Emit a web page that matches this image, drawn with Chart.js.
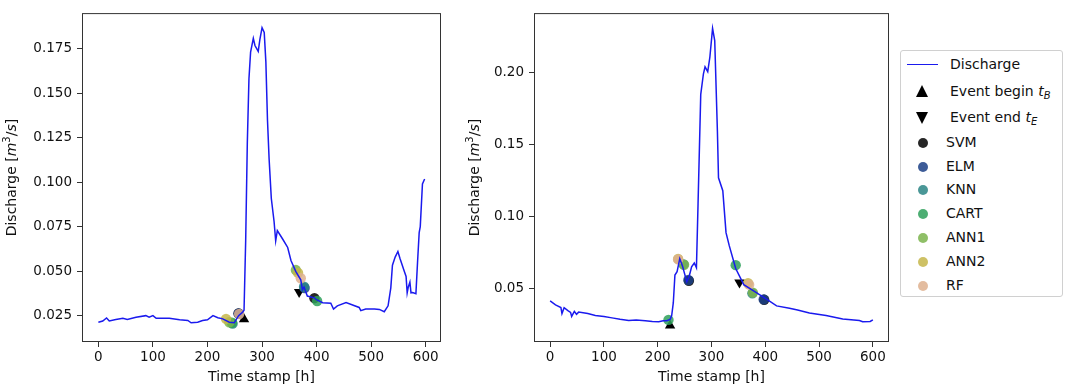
<!DOCTYPE html>
<html>
<head>
<meta charset="utf-8">
<script src="https://cdn.jsdelivr.net/npm/chart.js@4.4.1/dist/chart.umd.min.js"></script>
<style>
    body { margin: 0; background: #fff; font-family: 'DejaVu Sans', sans-serif; }
    #page { position: relative; width: 1074px; height: 389px; overflow: hidden; }
    #leftChart { position: absolute; left: 0; top: 0; }
    #rightChart { position: absolute; left: 462px; top: 0; }
    .legend {
        position: absolute; left: 900px; top: 50px; width: 161px; height: 245px;
        border: 1px solid #d0d0d0; border-radius: 3px; color: #111; font-size: 14px;
    }
    .row { position: relative; height: 26.6px; line-height: 26.6px; }
    .row.m { height: 23.8px; line-height: 23.8px; }
    .row .txt { position: absolute; left: 49px; top: 0; white-space: nowrap; }
    .row.m .txt { left: 45px; }
    .handle { position: absolute; }
    .h-line { left: 6px; top: 13px; width: 31px; height: 0; border-top: 1.5px solid #1a1aee; }
    .h-up { left: 15px; top: 7px; width: 0; height: 0; border-left: 6.5px solid transparent; border-right: 6.5px solid transparent; border-bottom: 12px solid #000; }
    .h-down { left: 15px; top: 8px; width: 0; height: 0; border-left: 6.5px solid transparent; border-right: 6.5px solid transparent; border-top: 12px solid #000; }
    .h-dot { left: 17px; top: 7px; width: 10px; height: 10px; border-radius: 50%; }
    sub { font-size: 10px; vertical-align: -3px; line-height: 0; }
</style>
</head>
<body>
<div id="page">
    <canvas id="leftChart" width="450" height="389"></canvas>
    <canvas id="rightChart" width="433" height="389"></canvas>
    <div class="legend" id="legend">
        <div class="row"><span class="handle h-line"></span><span class="txt">Discharge</span></div>
        <div class="row"><span class="handle h-up"></span><span class="txt">Event begin <i>t</i><sub><i>B</i></sub></span></div>
        <div class="row"><span class="handle h-down"></span><span class="txt">Event end <i>t</i><sub><i>E</i></sub></span></div>
    </div>
</div>
<script>
// hourly discharge
var LEFT_HOURS = [0, 8, 15, 20, 32, 45, 53, 69, 87, 93, 100, 106, 130, 149, 164, 170, 182, 191, 200, 210,
    219, 228, 240, 249, 257, 264, 267, 270, 273, 276, 279, 284, 287, 293, 296, 300, 304, 307, 310, 313,
    317, 322, 325, 328, 338, 347, 353, 362, 371, 374, 377, 383, 396, 399, 411, 426, 431, 438, 454, 466,
    478, 481, 490, 506, 515, 524, 531, 536, 539, 544, 549, 553, 561, 564, 566, 568, 571, 573, 576, 582,
    585, 588, 590, 594, 598];
var LEFT_FLOW = [0.0213, 0.0220, 0.0237, 0.0220, 0.0228, 0.0235, 0.0229, 0.0241, 0.0250, 0.0241, 0.0250, 0.0235, 0.0235, 0.0227, 0.0223, 0.0210, 0.0213, 0.0223, 0.0227, 0.0250,
    0.0238, 0.0232, 0.0213, 0.0210, 0.0250, 0.0268, 0.0280, 0.0670, 0.1220, 0.1580, 0.1730, 0.1807, 0.1767, 0.1734, 0.1800, 0.1867, 0.1840, 0.1675, 0.1346, 0.1127,
    0.0908, 0.0780, 0.0670, 0.0728, 0.0679, 0.0633, 0.0560, 0.0497, 0.0451, 0.0396, 0.0410, 0.0360, 0.0350, 0.0341, 0.0323, 0.0320, 0.0287, 0.0305, 0.0323, 0.0310,
    0.0296, 0.0278, 0.0287, 0.0287, 0.0285, 0.0272, 0.0305, 0.0406, 0.0533, 0.0579, 0.0610, 0.0570, 0.0497, 0.0470, 0.0378, 0.0410, 0.0438, 0.0378, 0.0380, 0.0373,
    0.0550, 0.0716, 0.0750, 0.0990, 0.1017];

// hourly discharge
var RIGHT_HOURS = [0, 10, 20, 22, 26, 33, 38, 40, 45, 49, 53, 70, 84, 100, 115, 130, 146, 160, 177, 190,
    202, 210, 217, 223, 226, 229, 232, 236, 241, 246, 254, 258, 263, 268, 272, 275, 280, 285, 288, 293,
    297, 302, 306, 311, 313, 321, 327, 333, 345, 360, 379, 403, 421, 445, 460, 482, 513, 544, 575, 581,
    595, 600];
var RIGHT_FLOW = [0.0417, 0.0390, 0.0372, 0.0330, 0.0370, 0.0350, 0.0338, 0.0310, 0.0345, 0.0325, 0.0340, 0.0330, 0.0316, 0.0310, 0.0300, 0.0290, 0.0282, 0.0285, 0.0280, 0.0275,
    0.0273, 0.0280, 0.0280, 0.0290, 0.0316, 0.0405, 0.0597, 0.0620, 0.0710, 0.0660, 0.0550, 0.0580, 0.0653, 0.0680, 0.0647, 0.1090, 0.1847, 0.1990, 0.2038, 0.2005,
    0.2106, 0.2304, 0.2220, 0.1588, 0.1270, 0.1180, 0.0890, 0.0800, 0.0642, 0.0530, 0.0485, 0.0428, 0.0383, 0.0367, 0.0355, 0.0334, 0.0317, 0.0293, 0.0282, 0.0273,
    0.0275, 0.0287];

// observed event begin / end  [begin, end]
var LEFT_EVENT_H = [267, 368];
var LEFT_EVENT_Q = [0.0230, 0.0383];
var RIGHT_EVENT_H = [223, 352];
var RIGHT_EVENT_Q = [0.0248, 0.0545];

// predicted begin / end per model, same order as MODELS
var MODELS = ['SVM', 'ELM', 'KNN', 'CART', 'ANN1', 'ANN2', 'RF'];
var LEFT_BEGIN_H = [257, 257, 246, 245, 240, 234, 258];
var LEFT_BEGIN_Q = [0.0262, 0.0262, 0.0205, 0.0210, 0.0213, 0.0232, 0.0259];
var LEFT_END_H = [396, 378, 377, 401, 362, 366, 371];
var LEFT_END_Q = [0.0348, 0.0405, 0.0412, 0.0332, 0.0506, 0.0490, 0.0460];
var RIGHT_BEGIN_H = [258, 257, 248, 220, 249, 238, 238];
var RIGHT_BEGIN_Q = [0.0557, 0.0562, 0.0670, 0.0286, 0.0668, 0.0708, 0.0705];
var RIGHT_END_H = [398, 397, 376, 345, 377, 368, 370];
var RIGHT_END_Q = [0.0425, 0.0428, 0.0470, 0.0665, 0.0475, 0.0540, 0.0530];

var X_TICKS = [0, 100, 200, 300, 400, 500, 600];
var LEFT_Y_TICKS = [0.025, 0.050, 0.075, 0.100, 0.125, 0.150, 0.175];
var RIGHT_Y_TICKS = [0.05, 0.10, 0.15, 0.20];

(function () {
    'use strict';

    var MODEL_COLORS = ['#000000', '#1b3f86', '#2a8585', '#2ea05a', '#7bb44c', '#c5b64a', '#deb08e'];
    var LINE_COLOR = '#1a1aee';
    var FONT = 'DejaVu Sans';

    Chart.defaults.font.family = FONT;
    Chart.defaults.color = '#111';

    function alpha(hex, a) {
        var n = parseInt(hex.slice(1), 16);
        return 'rgba(' + (n >> 16) + ',' + ((n >> 8) & 255) + ',' + (n & 255) + ',' + a + ')';
    }

    function points(xs, ys) {
        var out = [];
        for (var i = 0; i < xs.length; i++) {
            out.push({ x: xs[i], y: ys[i] });
        }
        return out;
    }

    // matplotlib style box around the plot area
    var framePlugin = {
        id: 'frame',
        afterDraw: function (chart) {
            var a = chart.chartArea;
            var ctx = chart.ctx;
            ctx.save();
            ctx.strokeStyle = '#333';
            ctx.lineWidth = 1;
            ctx.strokeRect(a.left + 0.5, a.top + 0.5, a.right - a.left - 1, a.bottom - a.top - 1);
            ctx.restore();
        }
    };

    // y title with mathtext-like pieces: Discharge [m^3/s]
    var yTitlePlugin = {
        id: 'yTitle',
        afterDraw: function (chart, args, opts) {
            var a = chart.chartArea;
            var ctx = chart.ctx;
            var parts = [
                { t: 'Discharge [', f: '14px ' + FONT, dy: 0 },
                { t: 'm', f: 'italic 14px ' + FONT, dy: 0 },
                { t: '3', f: '10px ' + FONT, dy: -5 },
                { t: '/', f: '14px ' + FONT, dy: 0 },
                { t: 's', f: 'italic 14px ' + FONT, dy: 0 },
                { t: ']', f: '14px ' + FONT, dy: 0 }
            ];
            ctx.save();
            var w = 0;
            parts.forEach(function (p) { ctx.font = p.f; p.w = ctx.measureText(p.t).width; w += p.w; });
            ctx.translate(opts.x, (a.top + a.bottom) / 2);
            ctx.rotate(-Math.PI / 2);
            ctx.fillStyle = '#111';
            ctx.textBaseline = 'middle';
            var x = -w / 2;
            parts.forEach(function (p) {
                ctx.font = p.f;
                ctx.fillText(p.t, x, p.dy);
                x += p.w;
            });
            ctx.restore();
        }
    };

    function buildDatasets(hours, flow, evH, evQ, bH, bQ, eH, eQ) {
        var sets = [{
            label: 'Discharge',
            data: points(hours, flow),
            showLine: true,
            borderColor: LINE_COLOR,
            borderWidth: 1.5,
            pointRadius: 0,
            tension: 0,
            order: 0
        }];
        for (var m = MODELS.length - 1; m >= 0; m--) {
            sets.push({
                label: MODELS[m],
                data: [{ x: bH[m], y: bQ[m] }, { x: eH[m], y: eQ[m] }],
                pointRadius: 5.2,
                pointBorderWidth: 0,
                backgroundColor: alpha(MODEL_COLORS[m], 0.85),
                order: MODELS.length - m
            });
        }
        sets.push({
            label: 'Event begin',
            data: [{ x: evH[0], y: evQ[0] }],
            pointStyle: 'triangle',
            pointRadius: 6,
            pointBorderWidth: 0,
            backgroundColor: '#000',
            order: 20
        });
        sets.push({
            label: 'Event end',
            data: [{ x: evH[1], y: evQ[1] }],
            pointStyle: 'triangle',
            rotation: 180,
            pointRadius: 6,
            pointBorderWidth: 0,
            backgroundColor: '#000',
            order: 21
        });
        return sets;
    }

    function axisTicks(list) {
        return function (scale) {
            scale.ticks = list.map(function (v) { return { value: v }; });
        };
    }

    function makeChart(canvas, cfg) {
        return new Chart(canvas, {
            type: 'scatter',
            data: { datasets: cfg.datasets },
            options: {
                responsive: false,
                animation: false,
                layout: { padding: { top: 5, right: cfg.padRight, left: 0, bottom: 0 } },
                plugins: {
                    legend: { display: false },
                    tooltip: { enabled: false },
                    yTitle: { x: cfg.titleX }
                },
                scales: {
                    x: {
                        type: 'linear',
                        min: cfg.xMin,
                        max: cfg.xMax,
                        afterBuildTicks: axisTicks(X_TICKS),
                        afterFit: function (scale) { scale.height = 47; },
                        border: { display: false },
                        grid: { drawOnChartArea: false, drawTicks: true, tickLength: 5, tickColor: '#333' },
                        ticks: { color: '#111', padding: 2, maxRotation: 0, font: { size: 13.5 } },
                        title: { display: true, text: 'Time stamp [h]', color: '#111', font: { size: 14 }, padding: { top: 0, bottom: 3 } }
                    },
                    y: {
                        type: 'linear',
                        min: cfg.yMin,
                        max: cfg.yMax,
                        afterBuildTicks: axisTicks(cfg.yTicks),
                        afterFit: function (scale) { scale.width = cfg.yWidth; },
                        border: { display: false },
                        grid: { drawOnChartArea: false, drawTicks: true, tickLength: 5, tickColor: '#333' },
                        ticks: {
                            color: '#111',
                            padding: 5,
                            font: { size: 13.5 },
                            callback: function (v) { return Number(v).toFixed(cfg.decimals); }
                        },
                        title: { display: false }
                    }
                }
            },
            plugins: [framePlugin, yTitlePlugin]
        });
    }

    function buildLegend() {
        var box = document.getElementById('legend');
        for (var m = 0; m < MODELS.length; m++) {
            var row = document.createElement('div');
            row.className = 'row m';
            var dot = document.createElement('span');
            dot.className = 'handle h-dot';
            dot.style.background = alpha(MODEL_COLORS[m], 0.85);
            var txt = document.createElement('span');
            txt.className = 'txt';
            txt.textContent = MODELS[m];
            row.appendChild(dot);
            row.appendChild(txt);
            box.appendChild(row);
        }
    }

    function boot() {
        makeChart(document.getElementById('leftChart'), {
            datasets: buildDatasets(LEFT_HOURS, LEFT_FLOW, LEFT_EVENT_H, LEFT_EVENT_Q,
                LEFT_BEGIN_H, LEFT_BEGIN_Q, LEFT_END_H, LEFT_END_Q),
            xMin: -30, xMax: 628,
            yMin: 0.0102, yMax: 0.1949,
            yTicks: LEFT_Y_TICKS,
            decimals: 3,
            yWidth: 82,
            padRight: 9,
            titleX: 12
        });
        makeChart(document.getElementById('rightChart'), {
            datasets: buildDatasets(RIGHT_HOURS, RIGHT_FLOW, RIGHT_EVENT_H, RIGHT_EVENT_Q,
                RIGHT_BEGIN_H, RIGHT_BEGIN_Q, RIGHT_END_H, RIGHT_END_Q),
            xMin: -30, xMax: 630,
            yMin: 0.0133, yMax: 0.241,
            yTicks: RIGHT_Y_TICKS,
            decimals: 2,
            yWidth: 72,
            padRight: 2,
            titleX: 13
        });
        buildLegend();
    }

    if (document.readyState === 'loading') {
        document.addEventListener('DOMContentLoaded', boot);
    } else {
        boot();
    }
})();
</script>
</body>
</html>
